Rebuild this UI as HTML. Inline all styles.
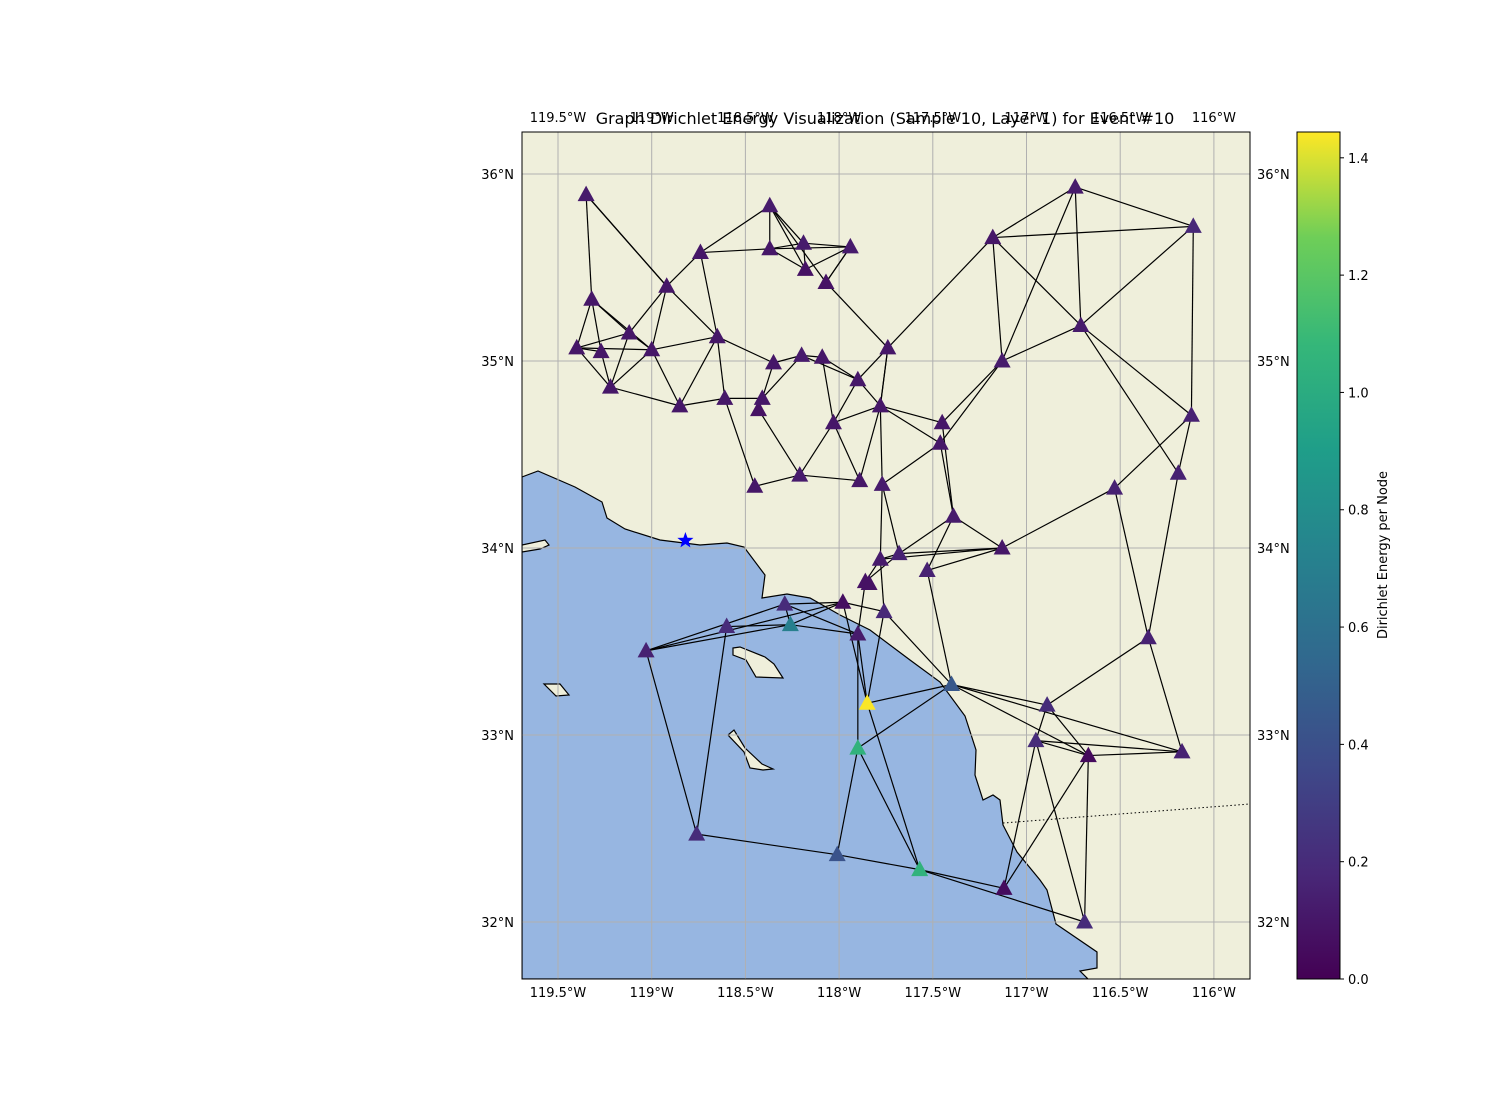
<!DOCTYPE html>
<html><head><meta charset="utf-8"><style>
html,body{margin:0;padding:0;background:#fff;}
svg{display:block;font-family:"DejaVu Sans","Liberation Sans",sans-serif;}
</style></head><body>
<svg id="chart" width="1500" height="1100" viewBox="0 0 1500 1100">
<defs>
<linearGradient id="viridis" x1="0" y1="1" x2="0" y2="0">
<stop offset="0" stop-color="#440154"/><stop offset="0.125" stop-color="#482878"/><stop offset="0.25" stop-color="#3e4989"/><stop offset="0.375" stop-color="#31688e"/><stop offset="0.5" stop-color="#26828e"/><stop offset="0.625" stop-color="#1f9e89"/><stop offset="0.75" stop-color="#35b779"/><stop offset="0.875" stop-color="#6ece58"/><stop offset="1" stop-color="#fde725"/>
</linearGradient>
<clipPath id="mapclip"><rect x="522" y="132" width="728" height="847"/></clipPath>
</defs>
<g clip-path="url(#mapclip)">
<rect x="522" y="132" width="728" height="847" fill="#efefdb"/>
<path fill="#97b6e1" stroke="#000" stroke-width="1.2" d="M522,477 L538,471 L575,487 L602,502 L607,518 L625,529 L660,540 L700,545 L727,543 L744,547 L765,575 L762,598 L787,594 L810,598 L840,615 L870,630 L910,660 L940,682 L965,716 L976,750 L975,775 L983,800 L993,795 L1000,800 L1003,825 L1017,852 L1040,880 L1047,890 L1056,924 L1097,952 L1097,968 L1080,971 L1088,979 L522,979 Z"/>
<path fill="#efefdb" stroke="#000" stroke-width="1.2" d="M522,545 L545,540 L549,545 L540,549 L522,552 Z"/>
<path fill="#efefdb" stroke="#000" stroke-width="1.2" d="M544,684 L560,684 L569,695 L556,696 Z"/>
<path fill="#efefdb" stroke="#000" stroke-width="1.2" d="M733,648 L740,647 L765,657 L774,664 L783,678 L756,677 L746,660 L733,655 Z"/>
<path fill="#efefdb" stroke="#000" stroke-width="1.2" d="M728,735 L734,730 L745,748 L762,764 L773,769 L763,770 L750,768 L744,752 Z"/>
<path d="M1003,823 L1250,804" stroke="#000" stroke-width="1" stroke-dasharray="1.5,2.5" fill="none"/>
<g id="grid"></g>
<g id="edges"></g>
<g id="nodes"></g>
</g>
<rect x="522" y="132" width="728" height="847" fill="none" stroke="#000" stroke-width="1"/>
<g id="ticks"></g>
<text x="885" y="124" text-anchor="middle" font-size="16">Graph Dirichlet Energy Visualization (Sample 10, Layer 1) for Event #10</text>
<rect x="1297" y="132" width="43" height="847" fill="url(#viridis)" stroke="#000" stroke-width="1"/>
<g id="cbticks"></g>
<text transform="translate(1387,555) rotate(-90)" text-anchor="middle" font-size="13">Dirichlet Energy per Node</text>
</svg>
<script>
const lons=[-119.35,-119.32,-119.40,-119.27,-119.12,-119.22,-119.00,-118.92,-118.85,-118.74,-118.65,-118.61,-118.43,-118.41,-118.45,-118.37,-118.37,-118.35,-118.19,-118.18,-118.07,-117.94,-118.20,-118.09,-117.90,-117.74,-118.03,-117.78,-117.89,-118.21,-117.77,-117.45,-117.46,-117.39,-117.13,-117.78,-117.68,-117.53,-117.86,-117.84,-117.76,-117.98,-118.29,-118.26,-117.90,-118.60,-119.03,-117.85,-117.90,-117.40,-118.01,-117.57,-118.76,-116.89,-116.95,-116.67,-116.17,-116.35,-116.53,-116.19,-116.12,-116.11,-116.74,-117.18,-116.71,-117.13,-117.12,-116.69];
const lats=[35.89,35.33,35.07,35.05,35.15,34.86,35.06,35.40,34.76,35.58,35.13,34.80,34.74,34.80,34.33,35.83,35.60,34.99,35.63,35.49,35.42,35.61,35.03,35.02,34.90,35.07,34.67,34.76,34.36,34.39,34.34,34.67,34.56,34.17,34.00,33.94,33.97,33.88,33.82,33.81,33.66,33.71,33.70,33.59,33.54,33.58,33.45,33.17,32.93,33.27,32.36,32.28,32.47,33.16,32.97,32.89,32.91,33.52,34.32,34.40,34.71,35.72,35.93,35.66,35.19,35.00,32.18,32.00];
const energy=[0.12,0.1,0.1,0.1,0.1,0.1,0.1,0.1,0.1,0.1,0.1,0.1,0.08,0.1,0.1,0.12,0.1,0.1,0.12,0.08,0.08,0.12,0.12,0.1,0.1,0.1,0.1,0.1,0.1,0.12,0.12,0.1,0.1,0.12,0.1,0.12,0.15,0.15,0.08,0.08,0.18,0.06,0.2,0.7,0.12,0.2,0.15,1.44,1.05,0.45,0.42,1.05,0.2,0.2,0.2,0.04,0.15,0.15,0.15,0.15,0.15,0.18,0.12,0.1,0.12,0.12,0.05,0.2];
const edgeFrom=[1,1,1,2,2,2,2,3,3,3,3,4,5,5,5,6,6,7,7,7,8,8,10,10,10,11,11,11,9,12,12,16,16,16,16,17,17,17,19,19,20,21,22,18,18,23,14,13,13,15,30,30,24,24,23,25,25,26,26,27,28,28,28,28,28,29,63,63,63,63,64,64,64,64,62,62,65,65,65,26,33,32,32,33,34,31,31,31,34,34,35,35,35,35,59,59,60,60,47,47,47,47,46,46,43,43,43,44,44,42,42,45,45,45,48,48,49,49,49,48,53,51,52,52,41,41,39,39,38,36,50,50,50,54,54,54,55,55,55,55,56,56,56,58];
const edgeTo=[2,8,8,3,4,5,7,4,7,5,6,6,6,8,7,9,7,8,11,9,10,11,17,16,11,9,12,18,12,14,15,17,19,20,21,22,20,19,22,20,22,22,21,23,14,24,23,14,30,30,29,27,27,25,25,28,27,28,25,28,32,33,31,29,26,27,64,62,65,66,62,26,66,65,65,61,66,61,60,21,66,66,34,34,35,33,37,36,38,37,37,36,38,59,61,58,61,58,43,42,44,53,53,44,44,42,45,45,42,41,48,39,49,48,41,50,50,51,52,52,51,52,67,68,36,50,36,37,50,37,54,57,56,55,56,58,57,56,67,68,57,67,68,57];
const lonTicks=[-119.5,-119,-118.5,-118,-117.5,-117,-116.5,-116];
const lonLabels=["119.5°W","119°W","118.5°W","118°W","117.5°W","117°W","116.5°W","116°W"];
const latTicks=[36,35,34,33,32];
const latLabels=["36°N","35°N","34°N","33°N","32°N"];
const cbTicks=[0,0.2,0.4,0.6,0.8,1.0,1.2,1.4];
const cbLabels=["0.0","0.2","0.4","0.6","0.8","1.0","1.2","1.4"];
const eventLon=-118.82, eventLat=34.04;
const vmax=1.444;

const NS='http://www.w3.org/2000/svg';
const X=lon=>558+(lon+119.5)*187.4;
const Y=lat=>174+(36-lat)*187;
const CY=v=>979-v/vmax*847;
function mk(tag,attrs,parent){const e=document.createElementNS(NS,tag);for(const k in attrs)e.setAttribute(k,attrs[k]);parent.appendChild(e);return e;}
const stops=[[0,'#440154'],[0.125,'#482878'],[0.25,'#3e4989'],[0.375,'#31688e'],[0.5,'#26828e'],[0.625,'#1f9e89'],[0.75,'#35b779'],[0.875,'#6ece58'],[1,'#fde725']];
function hex(h){return [1,3,5].map(i=>parseInt(h.substr(i,2),16));}
function viridis(t){t=Math.max(0,Math.min(1,t));for(let i=1;i<stops.length;i++){if(t<=stops[i][0]){const a=stops[i-1],b=stops[i];const f=(t-a[0])/(b[0]-a[0]);const ca=hex(a[1]),cb=hex(b[1]);return 'rgb('+ca.map((c,j)=>Math.round(c+(cb[j]-c)*f)).join(',')+')';}}return stops[8][1];}

const grid=document.getElementById('grid'),ticks=document.getElementById('ticks');
lonTicks.forEach((v,i)=>{
  const x=X(v);
  const g=mk('line',{x1:x,x2:x,y1:132,y2:979,stroke:'#b0b0b0','stroke-width':1},grid);
  
  
  const t=mk('text',{x:x,y:997,'text-anchor':'middle','font-size':13},ticks);t.textContent=lonLabels[i];
  
  
  const t2=mk('text',{x:x,y:122,'text-anchor':'middle','font-size':13},ticks);t2.textContent=lonLabels[i];
  
  
});
latTicks.forEach((v,i)=>{
  const y=Y(v);
  const g=mk('line',{x1:522,x2:1250,y1:y,y2:y,stroke:'#b0b0b0','stroke-width':1},grid);
  
  
  const t=mk('text',{x:514,y:y+5,'text-anchor':'end','font-size':13},ticks);t.textContent=latLabels[i];
  
  
  const t2=mk('text',{x:1257,y:y+5,'text-anchor':'start','font-size':13},ticks);t2.textContent=latLabels[i];
  
  
});
const eg=document.getElementById('edges');
edgeFrom.forEach((a,i)=>{
  const b=edgeTo[i];
  const l=mk('line',{x1:X(lons[a-1]),y1:Y(lats[a-1]),x2:X(lons[b-1]),y2:Y(lats[b-1]),stroke:'#000','stroke-width':1.2},eg);
  
  
});
const ng=document.getElementById('nodes');
lons.forEach((lo,i)=>{
  const x=X(lo),y=Y(lats[i]);
  const p=mk('polygon',{points:`${x},${y-9} ${x-8.5},${y+6.5} ${x+8.5},${y+6.5}`,fill:viridis(energy[i]/vmax)},ng);
  
  
});
(function(){
  const x=X(eventLon),y=Y(eventLat);let pts=[];
  for(let k=0;k<10;k++){const r=k%2?3.5:8.5;const a=-Math.PI/2+k*Math.PI/5;pts.push((x+r*Math.cos(a)).toFixed(1)+','+(y+r*Math.sin(a)).toFixed(1));}
  const s=mk('polygon',{points:pts.join(' '),fill:'#0000ff'},ng);
  
  
})();
const cb=document.getElementById('cbticks');
cbTicks.forEach((v,i)=>{
  const y=CY(v);
  const l=mk('line',{x1:1340,x2:1344,y1:y,y2:y,stroke:'#000'},cb);
  
  
  const t=mk('text',{x:1348,y:y+5,'font-size':13},cb);t.textContent=cbLabels[i];
  
  
});
</script>
</body></html>
